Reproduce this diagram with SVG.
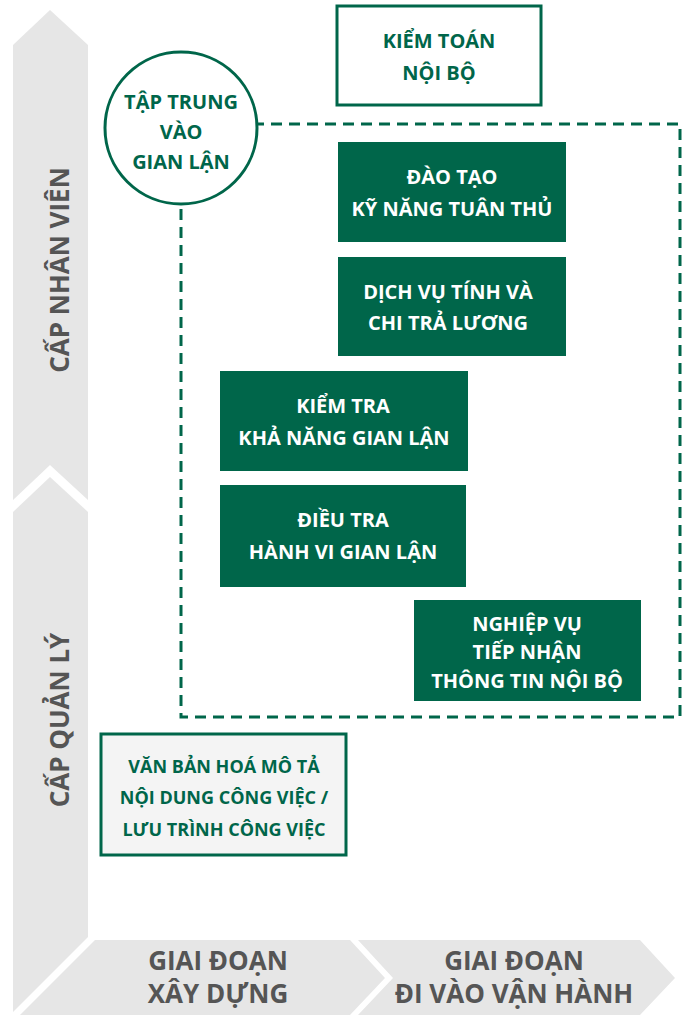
<svg xmlns="http://www.w3.org/2000/svg" width="686" height="1024" viewBox="0 0 686 1024">
<style>
.band{fill:#e6e6e6}
.bt{font-family:"Open Sans","Noto Sans",sans-serif;font-weight:700;font-size:26px;fill:#555;text-anchor:middle}
.g{fill:#00664a}
.wt{font-family:"Open Sans","Noto Sans",sans-serif;font-weight:700;font-size:20px;fill:#fff;text-anchor:middle}
.gt{font-family:"Open Sans","Noto Sans",sans-serif;font-weight:700;font-size:20px;fill:#00664a;text-anchor:middle}
</style>
<rect width="686" height="1024" fill="#fff"/>
<g id="axes">
<polygon class="band" points="13,45 50,10 88,45 88,500 50,465 13,500"/>
<polygon class="band" points="13,512 50,477 88,512 88,937 13,1012"/>
<polygon class="band" points="95,940 350,940 385,978 350,1015 20,1015"/>
<polygon class="band" points="358,940 640,940 675,978 640,1015 358,1015 393,978"/>
<text class="bt" transform="translate(60,270) rotate(-90)" dy="9">CẤP NHÂN VIÊN</text>
<text class="bt" transform="translate(60,720) rotate(-90)" dy="9">CẤP QUẢN LÝ</text>
<text class="bt" x="218" y="970">GIAI ĐOẠN</text>
<text class="bt" x="218" y="1003">XÂY DỰNG</text>
<text class="bt" x="514" y="970">GIAI ĐOẠN</text>
<text class="bt" x="514" y="1003">ĐI VÀO VẬN HÀNH</text>
</g>
<g id="connectors">
<rect x="181" y="124" width="499" height="593" fill="none" stroke="#00664a" stroke-width="3" stroke-dasharray="11,7"/>
</g>
<g id="kiem-toan">
<rect x="337" y="6" width="204" height="99" fill="#fff" stroke="#00664a" stroke-width="3"/>
<text class="gt" x="439" y="48">KIỂM TOÁN</text>
<text class="gt" x="439" y="80">NỘI BỘ</text>
</g>
<g id="tap-trung">
<circle cx="181" cy="128" r="76" fill="#fff" stroke="#00664a" stroke-width="3"/>
<text class="gt" x="181" y="109">TẬP TRUNG</text>
<text class="gt" x="181" y="139">VÀO</text>
<text class="gt" x="181" y="169">GIAN LẬN</text>
</g>
<g id="dao-tao">
<rect class="g" x="338" y="142" width="228" height="100"/>
<text class="wt" x="452" y="184">ĐÀO TẠO</text>
<text class="wt" x="452" y="216">KỸ NĂNG TUÂN THỦ</text>
</g>
<g id="dich-vu">
<rect class="g" x="338" y="257" width="228" height="99"/>
<text class="wt" x="448" y="299">DỊCH VỤ TÍNH VÀ</text>
<text class="wt" x="448" y="330">CHI TRẢ LƯƠNG</text>
</g>
<g id="kiem-tra">
<rect class="g" x="220" y="371" width="248" height="100"/>
<text class="wt" x="343" y="413">KIỂM TRA</text>
<text class="wt" x="344" y="445">KHẢ NĂNG GIAN LẬN</text>
</g>
<g id="dieu-tra">
<rect class="g" x="220" y="485" width="246" height="102"/>
<text class="wt" x="343" y="527">ĐIỀU TRA</text>
<text class="wt" x="343" y="559">HÀNH VI GIAN LẬN</text>
</g>
<g id="nghiep-vu">
<rect class="g" x="414" y="600" width="227" height="101"/>
<text class="wt" x="527" y="631">NGHIỆP VỤ</text>
<text class="wt" x="527" y="659">TIẾP NHẬN</text>
<text class="wt" x="527" y="688">THÔNG TIN NỘI BỘ</text>
</g>
<g id="van-ban">
<rect x="101" y="734" width="245" height="121" fill="#f4f4f4" stroke="#00664a" stroke-width="3"/>
<text class="gt" x="224" y="773" font-size="18" style="font-size:18px">VĂN BẢN HOÁ MÔ TẢ</text>
<text class="gt" x="224" y="804" style="font-size:18px">NỘI DUNG CÔNG VIỆC /</text>
<text class="gt" x="224" y="836" style="font-size:18px">LƯU TRÌNH CÔNG VIỆC</text>
</g>
</svg>
